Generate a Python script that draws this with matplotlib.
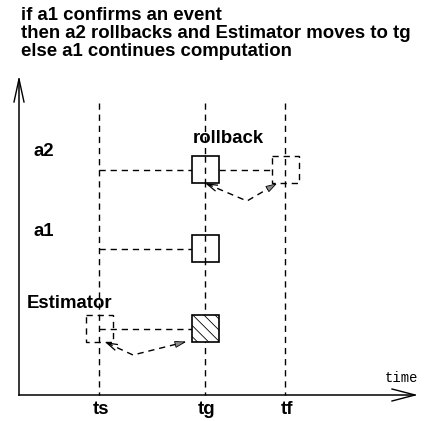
import numpy as np
import matplotlib
matplotlib.use('Agg')
import matplotlib.pyplot as plt
from matplotlib.patches import Rectangle, Polygon

# diagram data (pixel coordinates of the original figure)
title_lines = ['if a1 confirms an event',
               'then a2 rollbacks and Estimator moves to tg',
               'else a1 continues computation']
time_names = ['ts', 'tg', 'tf']
time_x = [99, 205, 285]
row_names = ['a2', 'a1', 'Estimator']
row_y = [169.5, 248.5, 328.5]
row_label_x = [33, 33, 27]
row_label_y = [156, 236, 308]

# boxes: (time index, row index, style)
boxes = [(1, 0, 'solid'), (2, 0, 'dashed'), (1, 1, 'solid'),
         (1, 2, 'hatch'), (0, 2, 'dashed')]
box_size = 27

# dashed arrows (polylines)
rollback_path = [(207, 184), (247, 201), (276, 184)]
estim_path = [(107, 343), (133, 355), (185, 342)]

plt.rcParams['hatch.linewidth'] = 0.6

W, H = 424, 421
fig = plt.figure(figsize=(W / 100, H / 100), dpi=100)
ax = fig.add_axes([0, 0, 1, 1])
ax.set_xlim(0, W)
ax.set_ylim(H, 0)
ax.axis('off')

bold = dict(family='Liberation Sans', fontweight='bold', fontsize=13.4, color='black')
dash = (0, (4.5, 3.5))
lw_d = 1.0

# title
for i, line in enumerate(title_lines):
    ax.text(21, 19.5 + i * 18, line, va='baseline', ha='left', **bold)

# axes with open V heads
x0, y0 = 19, 395
ax.plot([x0, x0], [y0, 79], color='black', lw=1.1)
ax.plot([x0, 415], [y0, y0], color='black', lw=1.1)
ax.plot([x0 - 5, x0, x0 + 5], [102, 79, 102], color='black', lw=1)
ax.plot([392, 415, 392], [y0 - 6, y0, y0 + 6], color='black', lw=1)
ax.text(385, 382, 'time', family='Liberation Mono', fontsize=10, va='baseline', ha='left')

# time lines
for name, tx in zip(time_names, time_x):
    ax.plot([tx, tx], [103, y0], color='black', lw=lw_d, linestyle=dash)
    ax.text(tx + 2, 414, name, ha='center', va='baseline', **bold)

# row labels
for name, lx, ly in zip(row_names, row_label_x, row_label_y):
    ax.text(lx, ly, name, ha='left', va='baseline', **bold)
ax.text(193, 143, 'rollback', ha='left', va='baseline', **bold)

# horizontal dashed links
h = box_size / 2
ax.plot([time_x[0], time_x[1] - h], [row_y[0]] * 2, color='black', lw=lw_d, linestyle=dash)
ax.plot([time_x[1] + h, time_x[2] - h], [row_y[0]] * 2, color='black', lw=lw_d, linestyle=dash)
ax.plot([time_x[0], time_x[1] - h], [row_y[1]] * 2, color='black', lw=lw_d, linestyle=dash)
ax.plot([time_x[0], time_x[1] - h], [row_y[2]] * 2, color='black', lw=lw_d, linestyle=dash)

# boxes
for ti, ri, style in boxes:
    cx, cy = time_x[ti] + 0.5, row_y[ri]
    if style == 'solid':
        r = Rectangle((cx - h, cy - h), box_size, box_size, fill=True, facecolor='white',
                      edgecolor='black', lw=1.2, zorder=3)
    elif style == 'hatch':
        r = Rectangle((cx - h, cy - h), box_size, box_size, facecolor='white',
                      edgecolor='black', lw=1.2, hatch='\\\\\\', zorder=3)
    else:
        r = Rectangle((cx - h, cy - h), box_size, box_size, fill=False,
                      edgecolor='black', lw=lw_d, linestyle=dash, zorder=3)
    ax.add_patch(r)
# redraw the time lines through the solid boxes
for ti, ri, style in boxes:
    if style == 'solid':
        cy = row_y[ri]
        ax.plot([time_x[ti], time_x[ti]], [cy - h, cy + h], color='black', lw=lw_d,
                linestyle=dash, zorder=4)


def head(p_from, p_to, filled, length=10, half=3):
    p_from, p_to = np.array(p_from, float), np.array(p_to, float)
    d = p_to - p_from
    d /= np.hypot(*d)
    n = np.array([-d[1], d[0]])
    base = p_to - d * length
    a, b = base + n * half, base - n * half
    if filled:
        ax.add_patch(Polygon([a, p_to, b], closed=True, facecolor='#888888',
                             edgecolor='black', lw=0.6, zorder=5))
    else:
        ax.plot([a[0], p_to[0], b[0]], [a[1], p_to[1], b[1]], color='black', lw=0.9, zorder=5)


for path in (rollback_path, estim_path):
    xs, ys = zip(*path)
    ax.plot(xs, ys, color='black', lw=lw_d, linestyle=dash)
    head(path[1], path[0], filled=False)
    head(path[1], path[2], filled=True)

fig.savefig('out.png', dpi=100)
